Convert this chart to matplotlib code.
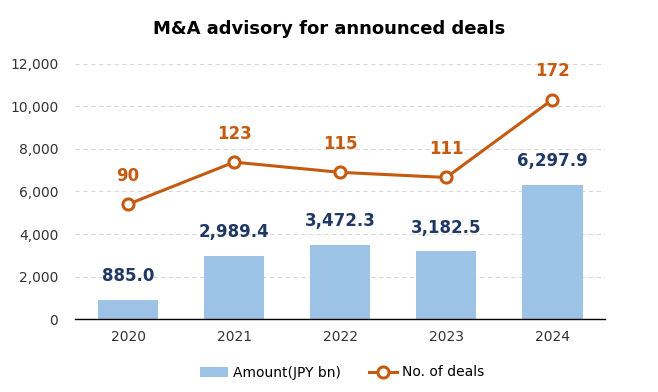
import numpy as np
import matplotlib.pyplot as plt

plt.rcParams['font.family'] = ['DejaVu Sans']

years = ['2020', '2021', '2022', '2023', '2024']
amount = [885.0, 2989.4, 3472.3, 3182.5, 6297.9]
deals = [90, 123, 115, 111, 172]

bar_color = '#9DC3E6'
line_color = '#C55A11'
navy = '#1F3864'


def main():
	fig = plt.figure(figsize=(6.58, 3.92), dpi=100)
	ax = fig.add_axes([0.114, 0.186, 0.806, 0.651])
	x = np.arange(len(years))

	bars = ax.bar(x, amount, width=0.57, color=bar_color, label='Amount(JPY bn)', zorder=2)
	ax.set_ylim(0, 12000)
	ax.set_xlim(-0.5, len(years) - 0.5)
	ax.set_yticks(np.arange(0, 12001, 2000))
	ax.set_yticklabels(['{:,}'.format(v) for v in range(0, 12001, 2000)])
	ax.set_xticks(x)
	ax.set_xticklabels(years)
	ax.tick_params(axis='both', length=0, labelsize=10, colors='#333333')
	ax.tick_params(axis='x', pad=8)
	ax.tick_params(axis='y', pad=12)
	ax.grid(axis='y', color='#D9D9D9', linestyle=(0, (4, 3)), linewidth=0.8, zorder=0)
	for s in ['top', 'right', 'left']:
		ax.spines[s].set_visible(False)
	ax.spines['bottom'].set_color('black')
	ax.spines['bottom'].set_linewidth(1.0)

	for xi, v in zip(x, amount):
		ax.text(xi, v + 700, '{:,.1f}'.format(v), ha='center', va='bottom',
			fontsize=12, fontweight='bold', color=navy)

	ax2 = ax.twinx()
	ax2.set_ylim(0, 200)
	ax2.axis('off')
	line, = ax2.plot(x, deals, color=line_color, linewidth=2.2, marker='o',
		markersize=8, markerfacecolor='white', markeredgecolor=line_color,
		markeredgewidth=2.2, label='No. of deals', zorder=3)
	for xi, d in zip(x, deals):
		ax2.text(xi, d + 15, str(d), ha='center', va='bottom',
			fontsize=12, fontweight='bold', color=line_color)

	fig.suptitle('M&A advisory for announced deals', x=0.5, y=0.95,
		fontsize=13, fontweight='bold', color='black')

	fig.legend([bars, line], ['Amount(JPY bn)', 'No. of deals'], loc='lower center',
		bbox_to_anchor=(0.52, 0.0), ncol=2, frameon=False, fontsize=10,
		handlelength=2.0, columnspacing=2.0, handletextpad=0.4)

	fig.savefig('out.png', dpi=100)


if __name__ == '__main__':
	main()
